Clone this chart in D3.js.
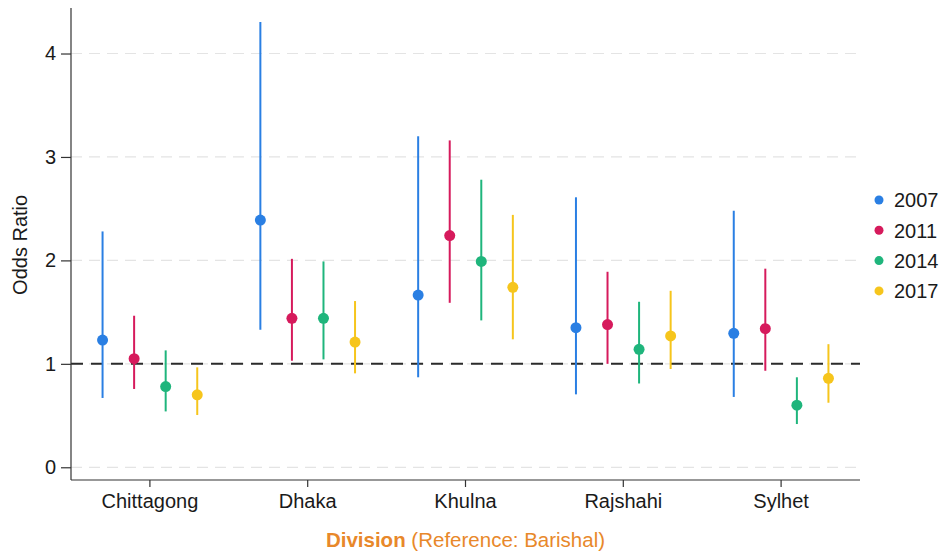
<!DOCTYPE html>
<html>
<head>
<meta charset="utf-8">
<script src="https://cdn.jsdelivr.net/npm/d3@7"></script>
<style>
  html, body { margin: 0; padding: 0; background: #fff; }
  svg { display: block; font-family: "Liberation Sans", Arial, sans-serif; }
</style>
</head>
<body>
<svg id="chart" width="948" height="559"></svg>
<script>
// Divisions compared against the reference division (Barishal)
const divisions = ["Chittagong", "Dhaka", "Khulna", "Rajshahi", "Sylhet"];
const years = ["2007", "2011", "2014", "2017"];
const yearColors = ["#2a7fe3", "#d61a5c", "#1fb57c", "#f6c51c"];

// Odds ratio point estimates, one array per survey year (order follows divisions)
const or2007 = [1.23, 2.39, 1.665, 1.35, 1.295];
const or2011 = [1.05, 1.44, 2.24, 1.38, 1.34];
const or2014 = [0.78, 1.44, 1.99, 1.14, 0.60];
const or2017 = [0.70, 1.21, 1.74, 1.27, 0.86];

// 95% confidence interval bounds
const lo2007 = [0.67, 1.33, 0.87, 0.705, 0.68];
const hi2007 = [2.28, 4.305, 3.20, 2.61, 2.48];
const lo2011 = [0.757, 1.03, 1.59, 1.0, 0.933];
const hi2011 = [1.465, 2.015, 3.16, 1.89, 1.92];
const lo2014 = [0.54, 1.043, 1.42, 0.81, 0.418];
const hi2014 = [1.13, 1.99, 2.78, 1.60, 0.87];
const lo2017 = [0.505, 0.908, 1.237, 0.95, 0.624];
const hi2017 = [0.966, 1.607, 2.44, 1.706, 1.19];

const yTicks = [0, 1, 2, 3, 4];

const estimates = [or2007, or2011, or2014, or2017];
const lowers = [lo2007, lo2011, lo2014, lo2017];
const uppers = [hi2007, hi2011, hi2014, hi2017];

const rows = [];
years.forEach((yr, j) => {
  divisions.forEach((dv, i) => {
    rows.push({ division: dv, year: yr, or: estimates[j][i], lo: lowers[j][i], hi: uppers[j][i] });
  });
});

const FONT = "20px";
const svg = d3.select("#chart");
const margin = { left: 71, right: 88, top: 8, bottom: 79 };
const width = 948, height = 559;
const plotW = width - margin.left - margin.right;
const plotH = height - margin.top - margin.bottom;

const g = svg.append("g").attr("transform", `translate(${margin.left},${margin.top})`);

const x = d3.scaleBand().domain(divisions).range([0, plotW]).padding(0);
const dodge = d3.scaleBand().domain(years).range([-0.4 * x.bandwidth(), 0.4 * x.bandwidth()]);
const y = d3.scaleLinear().domain([-0.123, 4.44]).range([plotH, 0]);
const color = d3.scaleOrdinal().domain(years).range(yearColors);

// light dashed horizontal gridlines
g.append("g").selectAll("line").data(yTicks).join("line")
  .attr("x1", 0).attr("x2", plotW)
  .attr("y1", d => y(d)).attr("y2", d => y(d))
  .attr("stroke", "#e4e4e4").attr("stroke-width", 1.2)
  .attr("stroke-dasharray", "11,7");

// null-effect reference line at OR = 1
g.append("line")
  .attr("x1", 0).attr("x2", plotW)
  .attr("y1", y(1)).attr("y2", y(1))
  .attr("stroke", "#2b2b2b").attr("stroke-width", 2)
  .attr("stroke-dasharray", "12,8");

const xpos = d => x(d.division) + x.bandwidth() / 2 + dodge(d.year) + dodge.bandwidth() / 2;

// confidence intervals
g.append("g").selectAll("line").data(rows).join("line")
  .attr("x1", xpos).attr("x2", xpos)
  .attr("y1", d => y(d.lo)).attr("y2", d => y(d.hi))
  .attr("stroke", d => color(d.year)).attr("stroke-width", 2);

// point estimates
g.append("g").selectAll("circle").data(rows).join("circle")
  .attr("cx", xpos).attr("cy", d => y(d.or))
  .attr("r", 5.5).attr("fill", d => color(d.year));

// axes
const yAxis = g.append("g").call(d3.axisLeft(y).tickValues(yTicks).tickSize(10).tickPadding(5).tickFormat(d3.format("d")));
const xAxis = g.append("g").attr("transform", `translate(0,${plotH})`)
  .call(d3.axisBottom(x).tickSize(7).tickPadding(7));

[yAxis, xAxis].forEach(a => {
  a.attr("font-size", null).attr("font-family", null);
  a.select(".domain").attr("stroke", "#333").attr("stroke-width", 1.2);
  a.selectAll(".tick line").attr("stroke", "#333").attr("stroke-width", 1.2);
  a.selectAll(".tick text").attr("fill", "#1a1a1a").style("font-size", FONT);
});
yAxis.select(".domain").attr("d", `M0,0V${plotH}`);
xAxis.select(".domain").attr("d", `M0,0H${plotW}`);

// axis titles
svg.append("text")
  .attr("transform", `translate(27,${margin.top + y(2.15)}) rotate(-90)`)
  .attr("text-anchor", "middle")
  .attr("fill", "#1a1a1a").style("font-size", FONT)
  .text("Odds Ratio");

const xt = svg.append("text")
  .attr("x", margin.left + plotW / 2)
  .attr("y", 547)
  .attr("text-anchor", "middle")
  .attr("fill", "#e8882a").style("font-size", "20.5px");
xt.append("tspan").attr("font-weight", "bold").text("Division");
xt.append("tspan").text(" (Reference: Barishal)");

// legend
const legend = svg.append("g").attr("transform", "translate(879,200)");
const item = legend.selectAll("g").data(years).join("g")
  .attr("transform", (d, i) => `translate(0,${i * 30.3})`);
item.append("circle").attr("r", 4.5).attr("fill", d => color(d));
item.append("text").attr("x", 15).attr("dy", "0.36em")
  .attr("fill", "#1a1a1a").style("font-size", FONT).text(d => d);
</script>
</body>
</html>
